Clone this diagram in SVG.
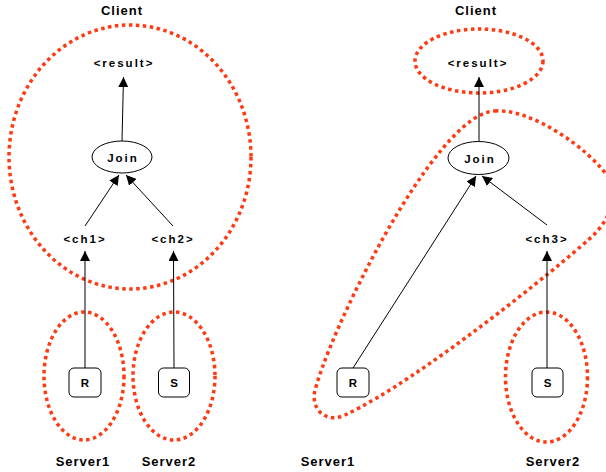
<svg xmlns="http://www.w3.org/2000/svg" width="606" height="472" viewBox="0 0 606 472">
  <style>
    .lbl { font-family: "Liberation Sans", Arial, sans-serif; font-weight: bold; font-size: 11.5px; letter-spacing: 2px; fill: #000; text-anchor: middle; }
    .title { font-size: 13px; letter-spacing: 1px; }
    .box { fill: #fff; stroke: #000; stroke-width: 1; }
    .op { fill: #fff; stroke: #000; stroke-width: 1; }
    .zone { fill: none; stroke: #ff3a12; stroke-width: 3.5; stroke-dasharray: 3.5 3.5; }
    .edge { fill: none; stroke: #000; stroke-width: 1; marker-end: url(#arrow); }
  </style>
  <defs>
    <marker id="arrow" markerUnits="userSpaceOnUse" markerWidth="11" markerHeight="10" refX="10" refY="5" orient="auto">
      <path d="M0,0 L10,5 L0,10 z" fill="#000"/>
    </marker>
  </defs>
  <rect width="606" height="472" fill="#fff"/>

  <!-- placement zones -->
  <g id="zones">
    <ellipse class="zone" cx="130" cy="157" rx="121" ry="132"/>
    <ellipse class="zone" cx="84" cy="376" rx="40" ry="64"/>
    <ellipse class="zone" cx="174" cy="376" rx="41" ry="64"/>
    <ellipse class="zone" cx="479" cy="61" rx="64" ry="32"/>
    <path class="zone" d="M495,111 C530,108 590,148 610,180 C618,196 610,222 588,240 C562,264 420,380 345,415 C330,422 314,415 314,395 C325,340 435,112 495,111 Z"/>
    <ellipse class="zone" cx="546.5" cy="377" rx="41" ry="65"/>
  </g>

  <!-- connectors -->
  <g id="connectors">
    <line class="edge" x1="122" y1="141" x2="123.5" y2="77"/>
    <line class="edge" x1="85" y1="226" x2="119" y2="175"/>
    <line class="edge" x1="173" y1="226" x2="126" y2="175"/>
    <line class="edge" x1="85" y1="368" x2="85" y2="251"/>
    <line class="edge" x1="174" y1="368" x2="173.5" y2="251"/>
    <line class="edge" x1="479" y1="142" x2="479" y2="77"/>
    <line class="edge" x1="353" y1="368" x2="476" y2="176"/>
    <line class="edge" x1="547" y1="225" x2="482" y2="176"/>
    <line class="edge" x1="547" y1="368" x2="547" y2="251"/>
  </g>

  <!-- left plan -->
  <g id="client-left"><text class="lbl title" x="122" y="15">Client</text></g>
  <g id="result-left"><text class="lbl" x="124" y="67">&lt;result&gt;</text></g>
  <g id="join-left">
    <ellipse class="op" cx="122" cy="157" rx="30" ry="16"/>
    <text class="lbl" x="123" y="161.5">Join</text>
  </g>
  <g id="ch1"><text class="lbl" x="85" y="243">&lt;ch1&gt;</text></g>
  <g id="ch2"><text class="lbl" x="173" y="243">&lt;ch2&gt;</text></g>
  <g id="r-left">
    <rect class="box" x="69" y="368" width="32" height="29" rx="5"/>
    <text class="lbl" x="86" y="387">R</text>
  </g>
  <g id="s-left">
    <rect class="box" x="158.5" y="368" width="31" height="29" rx="5"/>
    <text class="lbl" x="175" y="387">S</text>
  </g>
  <g id="server1-left"><text class="lbl title" x="83" y="466">Server1</text></g>
  <g id="server2-left"><text class="lbl title" x="169" y="466">Server2</text></g>

  <!-- right plan -->
  <g id="client-right"><text class="lbl title" x="476" y="15">Client</text></g>
  <g id="result-right"><text class="lbl" x="478" y="67">&lt;result&gt;</text></g>
  <g id="join-right">
    <ellipse class="op" cx="478.5" cy="158" rx="30.5" ry="16.5"/>
    <text class="lbl" x="480" y="162.5">Join</text>
  </g>
  <g id="ch3"><text class="lbl" x="547" y="243">&lt;ch3&gt;</text></g>
  <g id="r-right">
    <rect class="box" x="337" y="368" width="32" height="29" rx="5"/>
    <text class="lbl" x="354" y="387">R</text>
  </g>
  <g id="s-right">
    <rect class="box" x="532" y="368" width="31" height="29" rx="5"/>
    <text class="lbl" x="548.5" y="387">S</text>
  </g>
  <g id="server1-right"><text class="lbl title" x="328" y="466">Server1</text></g>
  <g id="server2-right"><text class="lbl title" x="553" y="466">Server2</text></g>
</svg>
